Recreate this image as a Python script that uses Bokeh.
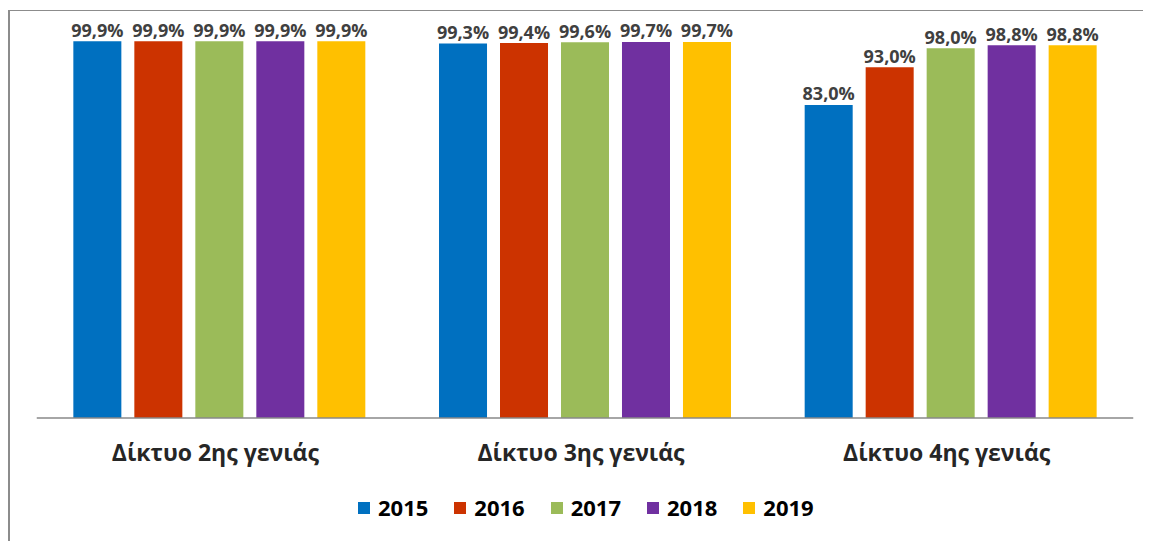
from bokeh.plotting import figure
from bokeh.models import ColumnDataSource, FactorRange, Range1d, LabelSet, Legend, LegendItem, Span
from bokeh.transform import dodge
from bokeh.core.properties import value
from bokeh.embed import file_html
from bokeh.resources import INLINE

categories = ["Δίκτυο 2ης γενιάς", "Δίκτυο 3ης γενιάς", "Δίκτυο 4ης γενιάς"]
years = ["2015", "2016", "2017", "2018", "2019"]
v2015 = [99.9, 99.3, 83.0]
v2016 = [99.9, 99.4, 93.0]
v2017 = [99.9, 99.6, 98.0]
v2018 = [99.9, 99.7, 98.8]
v2019 = [99.9, 99.7, 98.8]
series = [v2015, v2016, v2017, v2018, v2019]
colors = ["#0070C0", "#CC3300", "#9BBB59", "#7030A0", "#FFC000"]

W, H = 1135, 531
p = figure(x_range=FactorRange(*categories, range_padding=0),
           y_range=Range1d(-33.0, 106.44),
           x_axis_location=None, y_axis_location=None,
           width=W, height=H, output_backend="svg", toolbar_location=None,
           min_border_left=26, min_border_right=12, min_border_top=5, min_border_bottom=0)
p.styles = {"margin-left": "8px", "margin-top": "10px",
            "border-top": "1px solid #8c8c8c", "border-left": "2px solid #8c8c8c"}
p.outline_line_color = None
p.grid.grid_line_color = None

# baseline (category axis line)
p.add_layout(Span(location=0, dimension="width", line_color="#888888", line_width=1.5))

# category labels under the baseline
cat_src = ColumnDataSource(dict(cat=categories, y0=[0] * len(categories)))
p.add_layout(LabelSet(x="cat", y="y0", text="cat", source=cat_src,
                      text_align="center", text_baseline="alphabetic", y_offset=-42.5, x_offset=-4,
                      text_font=value("Open Sans"), text_font_style="bold",
                      text_font_size="23px", text_color="#262626"))

step = 0.1668
bw = 0.1313
items = []
for i, (yr, vals, col) in enumerate(zip(years, series, colors)):
    off = (i - 2) * step
    src = ColumnDataSource(dict(cat=categories, val=vals,
                                txt=[f"{v:.1f}".replace(".", ",") + "%" for v in vals]))
    r = p.vbar(x=dodge("cat", off, range=p.x_range), top="val", width=bw, bottom=0,
               source=src, fill_color=col, line_color=None)
    items.append(LegendItem(label=yr, renderers=[r]))
    p.add_layout(LabelSet(x=dodge("cat", off, range=p.x_range), y="val", text="txt", source=src,
                          text_align="center", text_baseline="alphabetic", y_offset=4.5,
                          text_font=value("Open Sans"), text_font_style="bold",
                          text_font_size="18px", text_color="#404040"))

legend = Legend(items=items, orientation="horizontal", location=(320, 20),
                glyph_width=15, glyph_height=15, label_standoff=7, spacing=24,
                padding=0, margin=0, border_line_color=None, background_fill_alpha=0,
                label_text_font="Open Sans", label_text_font_style="bold",
                label_text_font_size="22px", label_text_color="#000000")
p.add_layout(legend, "center")

open("out.html", "w").write(file_html(p, INLINE))
